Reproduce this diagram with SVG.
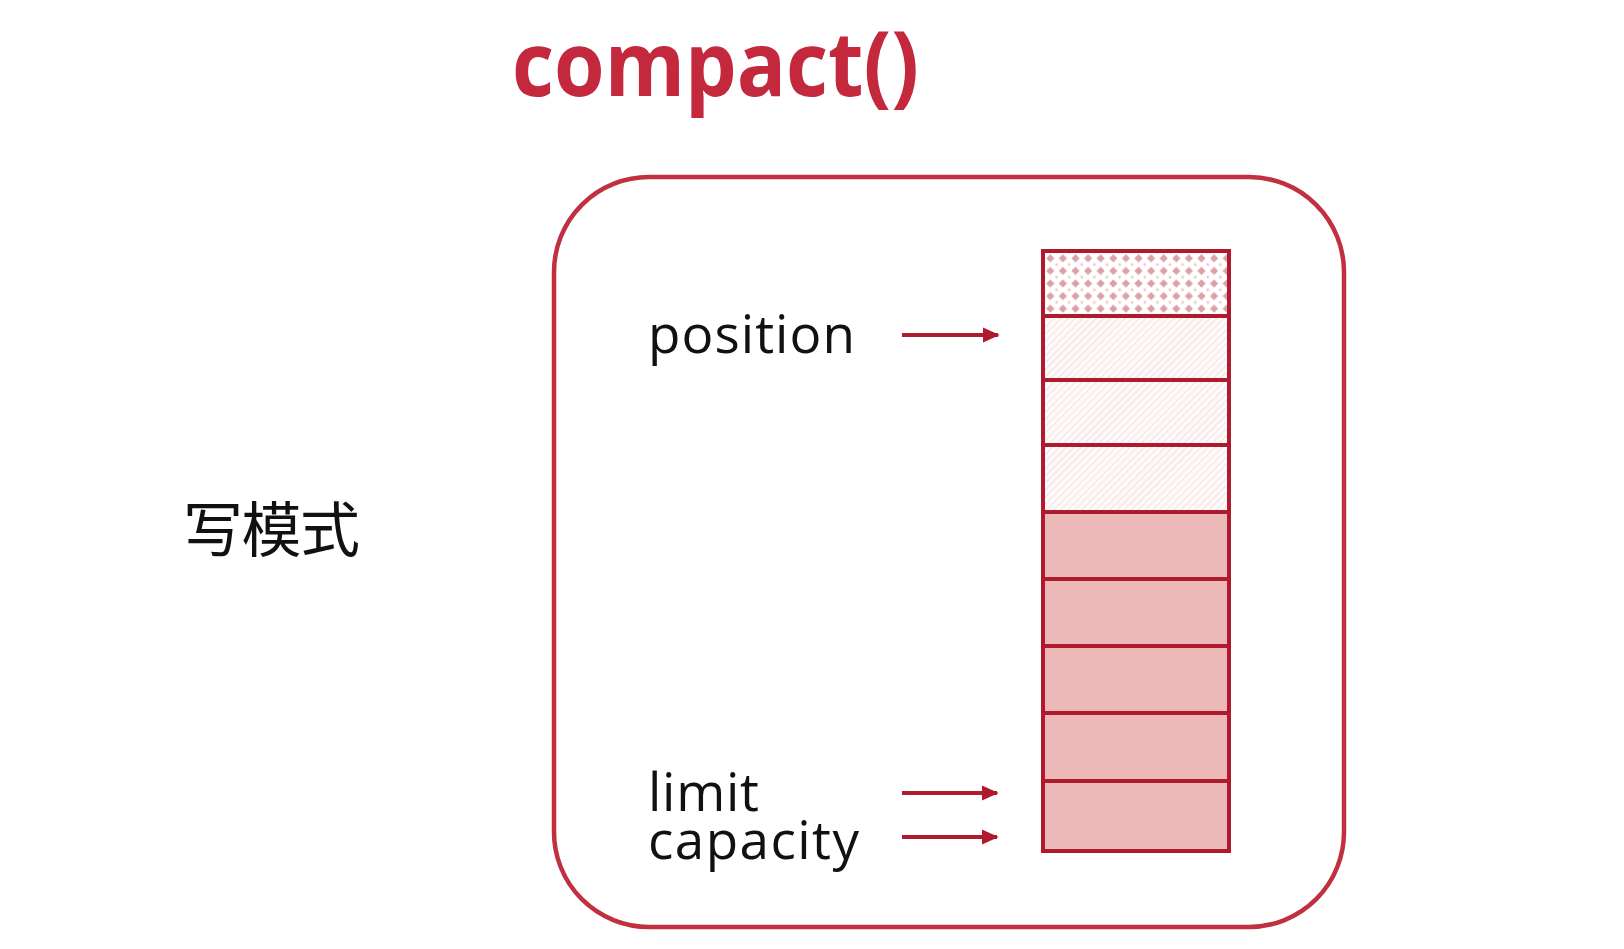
<svg xmlns="http://www.w3.org/2000/svg" width="1624" height="949" viewBox="0 0 1624 949">
<style>
.title{font-family:"Open Sans","Liberation Sans",sans-serif;font-weight:700;font-size:90px;fill:#c3283c}
.lbl{font-family:"Open Sans","Liberation Sans",sans-serif;font-size:53px;fill:#111}
.cjk{font-family:"Noto Sans CJK SC","Noto Sans",sans-serif;font-size:60px;fill:#111}
.frame{fill:none;stroke:#c0303f;stroke-width:4.5}
.cell{stroke:#b01a2e;stroke-width:4}
.arrow{stroke:#b01a2e;stroke-width:4;fill:none;marker-end:url(#ah)}
</style>
<defs>
<marker id="ah" viewBox="0 0 10 10" refX="9" refY="5" markerWidth="4.2" markerHeight="4.2" orient="auto" markerUnits="strokeWidth">
<path d="M0,0.5 L10,5 L0,9.5 z" fill="#b01a2e"/>
</marker>
<pattern id="dots" width="12.6" height="12.6" patternUnits="userSpaceOnUse" x="1044" y="252">
<rect width="12.6" height="12.6" fill="#fff"/>
<path d="M6.3,2.2 L10.4,6.3 L6.3,10.4 L2.2,6.3 z" fill="#dca0a7"/>
<circle cx="0" cy="0" r="1.4" fill="#eec5c9"/>
<circle cx="12.6" cy="0" r="1.4" fill="#eec5c9"/>
<circle cx="0" cy="12.6" r="1.4" fill="#eec5c9"/>
<circle cx="12.6" cy="12.6" r="1.4" fill="#eec5c9"/>
</pattern>
<pattern id="hatch" width="5" height="5" patternUnits="userSpaceOnUse" patternTransform="rotate(45)">
<rect width="5" height="5" fill="#fdf9f9"/>
<line x1="0" y1="0" x2="0" y2="5" stroke="#f0d3d6" stroke-width="1.3"/>
</pattern>
</defs>
<rect width="1624" height="949" fill="#fff"/>

<g id="title"><text class="title" x="512" y="96" textLength="407" lengthAdjust="spacingAndGlyphs">compact()</text></g>

<g id="mode"><text class="cjk" x="183" y="552" textLength="177">写模式</text></g>

<g id="frame"><rect class="frame" x="554" y="177" width="790" height="750" rx="95" ry="95"/></g>

<g id="buffer">
<rect class="cell" x="1043" y="251" width="186" height="65" fill="url(#dots)"/>
<rect class="cell" x="1043" y="316" width="186" height="64" fill="url(#hatch)"/>
<rect class="cell" x="1043" y="380" width="186" height="65" fill="url(#hatch)"/>
<rect class="cell" x="1043" y="445" width="186" height="67" fill="url(#hatch)"/>
<rect class="cell" x="1043" y="512" width="186" height="67" fill="#ecb8b8"/>
<rect class="cell" x="1043" y="579" width="186" height="67" fill="#ecb8b8"/>
<rect class="cell" x="1043" y="646" width="186" height="67" fill="#ecb8b8"/>
<rect class="cell" x="1043" y="713" width="186" height="68" fill="#ecb8b8"/>
<rect class="cell" x="1043" y="781" width="186" height="70" fill="#ecb8b8"/>
</g>

<g id="labels">
<text class="lbl" x="648" y="353" textLength="207">position</text>
<text class="lbl" x="648" y="811" textLength="111">limit</text>
<text class="lbl" x="648" y="859" textLength="211">capacity</text>
</g>

<g id="connectors">
<line class="arrow" x1="902" y1="335" x2="998" y2="335"/>
<line class="arrow" x1="902" y1="793" x2="997" y2="793"/>
<line class="arrow" x1="902" y1="837" x2="997" y2="837"/>
</g>
</svg>
